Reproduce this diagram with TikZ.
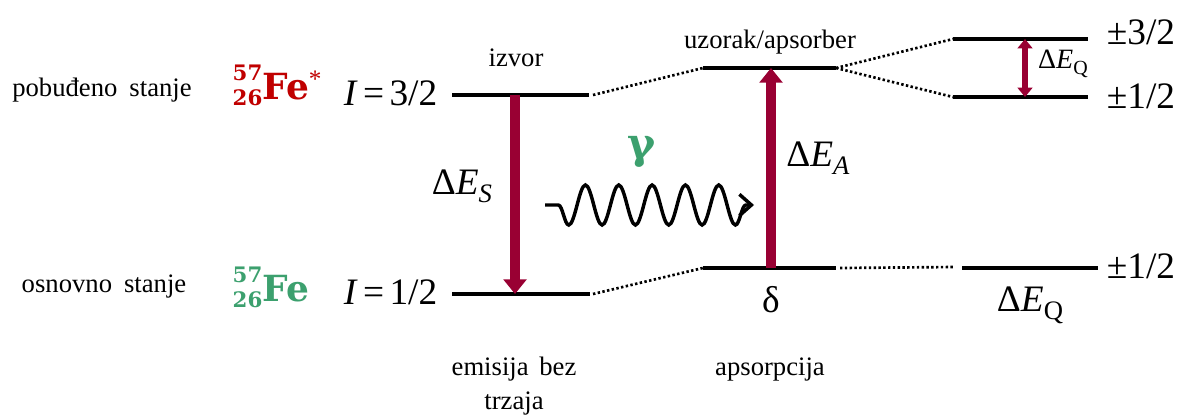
\documentclass[tikz,border=0pt]{standalone}
\usepackage{fontspec}
\setmainfont{Liberation Serif}
\newfontfamily\nucfont{DejaVu Serif}
\usetikzlibrary{arrows.meta,decorations.pathmorphing}

\definecolor{transred}{RGB}{153,0,51}
\definecolor{nucred}{RGB}{192,0,0}
\definecolor{nucgreen}{RGB}{60,160,110}

% mass and atomic number stacked before the symbol
\newcommand{\isotope}[3]{{\nucfont\bfseries
  \raisebox{-5pt}{\fontsize{16}{19}\selectfont\begin{tabular}[b]{@{}r@{}}#1\\#2\end{tabular}}#3}}

\tikzset{
  lbl/.style={font=\fontsize{20}{25}\selectfont},
  big/.style={font=\fontsize{28}{30}\selectfont},
  level/.style={line width=2.3pt},
  link/.style={line width=2pt, dash pattern=on 1.8pt off 1.8pt},
  trans/.style={draw=transred, line width=7.5pt, -{Triangle[length=11pt,width=17pt]}},
  split/.style={draw=transred, line width=4.5pt, {Triangle[length=7pt,width=11pt]}-{Triangle[length=7pt,width=11pt]}},
}

\begin{document}
\begin{tikzpicture}[x=0.75pt,y=-0.75pt]
\useasboundingbox (0,0) rectangle (1180,415);

% state names and nuclides
\node[lbl] (exname) at (102,90) {pobuđeno\hspace{4pt} stanje};
\node[lbl] (gsname) at (104,287) {osnovno\hspace{4pt} stanje};
\node[anchor=west, text=nucred, font=\fontsize{27}{30}\selectfont] (festar) at (228,88)
  {\isotope{57}{26}{Fe}\textsuperscript{\rmfamily\mdseries *}};
\node[anchor=west, text=nucgreen, font=\fontsize{27}{30}\selectfont] (fe) at (228,290)
  {\isotope{57}{26}{Fe}};
\node[big, anchor=east] (spinex) at (442,93) {\textit{I}\hspace{4pt}=\hspace{4pt}3/2};
\node[big, anchor=east] (spings) at (442,292) {\textit{I}\hspace{4pt}=\hspace{4pt}1/2};

% source levels
\coordinate (srcUa) at (452,95);
\coordinate (srcUb) at (589,95);
\coordinate (srcLa) at (452,294);
\coordinate (srcLb) at (590,294);
\draw[level] (srcUa) -- (srcUb);
\draw[level] (srcLa) -- (srcLb);
\coordinate (emitTop) at (515,95);
\coordinate (emitBot) at (515,294);
\draw[trans] (emitTop) -- (emitBot);
\node[lbl] (izvor) at (516,58) {izvor};
\node[big] (des) at (462,186) {Δ\textit{E}\raisebox{-6pt}{\fontsize{20}{20}\selectfont\textit{S}}};

% absorber levels
\coordinate (absUa) at (703,68);
\coordinate (absUb) at (836,68);
\coordinate (absLa) at (703,268);
\coordinate (absLb) at (836,268);
\draw[level] (absUa) -- (absUb);
\draw[level] (absLa) -- (absLb);
\draw[link] (593,95) -- (absUa);
\draw[link] (593,294) -- (absLa);
\coordinate (absTop) at (771,68);
\coordinate (absBot) at (771,268);
\draw[trans] (absBot) -- (absTop);
\node[lbl] (uzorak) at (770,42) {uzorak/apsorber};
\node[big] (dea) at (818,158) {Δ\textit{E}\raisebox{-6pt}{\fontsize{20}{20}\selectfont\textit{A}}};
\node[big] (delta) at (771,300) {δ};

% gamma photon
\coordinate (waveA) at (545,205);
\coordinate (waveB) at (754,205);
\draw[line width=2.6pt, -{Straight Barb[length=9pt,width=16pt]},
  decorate, decoration={snake, mirror, amplitude=15pt, segment length=25pt,
  pre length=10pt, post length=6pt}] (waveA) -- (waveB);
\node[text=nucgreen, font=\nucfont\fontsize{32}{34}\selectfont\bfseries] (gamma) at (642,152) {γ};

% quadrupole splitting
\coordinate (qUa) at (953,39);
\coordinate (qUb) at (1088,39);
\coordinate (qMa) at (953,97);
\coordinate (qMb) at (1088,97);
\coordinate (qLa) at (962,268);
\coordinate (qLb) at (1098,268);
\draw[level] (qUa) -- (qUb);
\draw[level] (qMa) -- (qMb);
\draw[level] (qLa) -- (qLb);
\draw[link] (absUb) -- (qUa);
\draw[link] (absUb) -- (qMa);
\draw[link] (840,268) -- (955,267);
\coordinate (qTop) at (1025,39);
\coordinate (qBot) at (1025,97);
\draw[split] (qBot) -- (qTop);
\node[font=\fontsize{21}{22}\selectfont] (deqs) at (1063,64) {Δ\textit{E}\raisebox{-4pt}{\fontsize{15}{15}\selectfont Q}};
\node[big] (mj3) at (1141,32) {±3/2};
\node[big] (mj1) at (1141,96) {±1/2};
\node[big] (mjg) at (1141,266) {±1/2};
\node[big] (deqb) at (1030,305) {Δ\textit{E}\raisebox{-6pt}{\fontsize{20}{20}\selectfont Q}};

% bottom captions
\node[lbl, align=center] (emis) at (514,386) {emisija\hspace{3pt} bez\\trzaja};
\node[lbl] (apso) at (770,370) {apsorpcija};
\end{tikzpicture}
\end{document}
